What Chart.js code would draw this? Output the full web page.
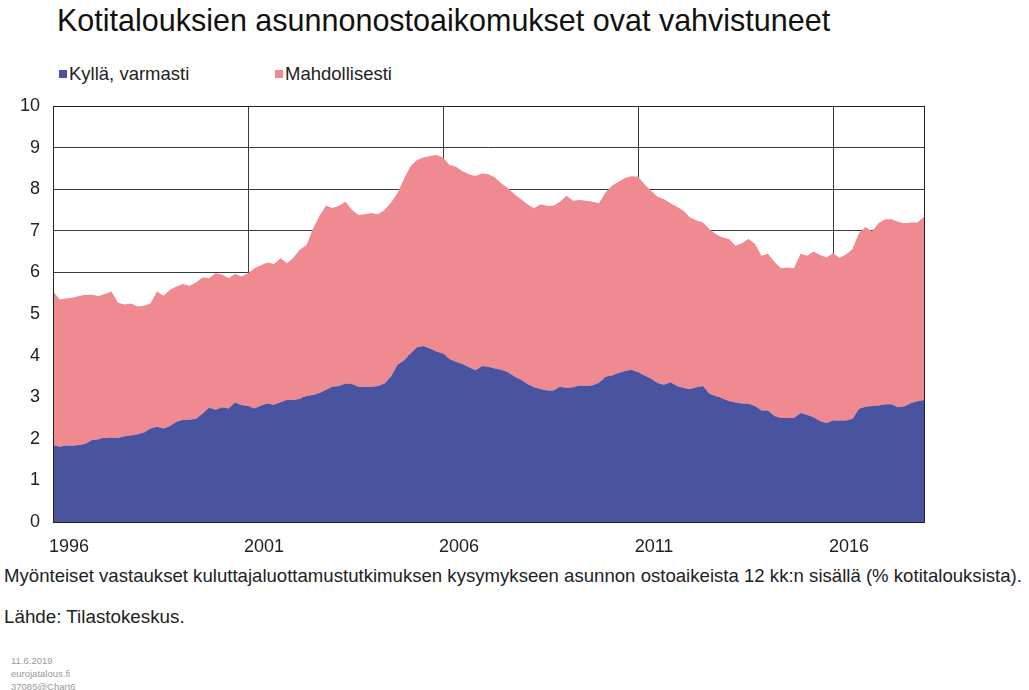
<!DOCTYPE html>
<html>
<head>
<meta charset="utf-8">
<script src="https://cdn.jsdelivr.net/npm/chart.js@4"></script>
<style>
  body { margin: 0; background: #fff; font-family: "Liberation Sans", Arial, sans-serif; color: #222; }
  #wrap { position: relative; width: 1029px; height: 690px; overflow: hidden; }
  #title { position: absolute; left: 57px; top: 3px; font-size: 30.5px; color: #111; white-space: nowrap; }
  .leg { position: absolute; top: 63px; font-size: 18.5px; white-space: nowrap; }
  .leg i { display: inline-block; width: 8px; height: 8px; margin-right: 2px; vertical-align: 2px; }
  #chartBox { position: absolute; left: 0; top: 90px; width: 1029px; height: 470px; }
  #note { position: absolute; left: 4px; top: 565px; font-size: 18.6px; white-space: nowrap; }
  #source { position: absolute; left: 4px; top: 606px; font-size: 18.8px; }
  #stamp { position: absolute; left: 11px; top: 654px; font-size: 9.5px; line-height: 13px; color: #999; }
</style>
</head>
<body>
<div id="wrap">
  <div id="title">Kotitalouksien asunnonostoaikomukset ovat vahvistuneet</div>
  <div class="leg" style="left:59px"><i style="background:#4a53a0"></i>Kyllä, varmasti</div>
  <div class="leg" style="left:275px"><i style="background:#ef8a90"></i>Mahdollisesti</div>
  <div id="chartBox"><canvas id="myChart"></canvas></div>
  <div id="note">Myönteiset vastaukset kuluttajaluottamustutkimuksen kysymykseen asunnon ostoaikeista 12 kk:n sisällä (% kotitalouksista).</div>
  <div id="source">Lähde: Tilastokeskus.</div>
  <div id="stamp">11.6.2019<br>eurojatalous.fi<br>37085@Chart6</div>
</div>
<script>
// every second month, Jan 1996 - May 2018
const startYear = 1996;
const yearTicks = ['1996', '2001', '2006', '2011', '2016'];

const kylla = [
  1.85, 1.81, 1.84, 1.83, 1.85, 1.88, 1.97, 1.99, 2.02, 2.03, 2.02, 2.06,
  2.08, 2.11, 2.15, 2.25, 2.29, 2.25, 2.31, 2.41, 2.46, 2.46, 2.48, 2.60,
  2.75, 2.70, 2.76, 2.73, 2.87, 2.81, 2.79, 2.73, 2.80, 2.85, 2.82, 2.88,
  2.94, 2.93, 2.96, 3.03, 3.05, 3.10, 3.18, 3.25, 3.27, 3.33, 3.32, 3.25,
  3.25, 3.25, 3.27, 3.33, 3.50, 3.78, 3.88, 4.05, 4.20, 4.23, 4.17, 4.10,
  4.05, 3.92, 3.85, 3.80, 3.72, 3.65, 3.75, 3.73, 3.69, 3.66, 3.60, 3.50,
  3.42, 3.32, 3.24, 3.20, 3.16, 3.16, 3.25, 3.22, 3.24, 3.28, 3.27, 3.29,
  3.35, 3.49, 3.52, 3.58, 3.63, 3.66, 3.60, 3.52, 3.45, 3.34, 3.30, 3.36,
  3.27, 3.22, 3.20, 3.24, 3.27, 3.08, 3.02, 2.97, 2.91, 2.87, 2.85, 2.84,
  2.79, 2.68, 2.68, 2.55, 2.50, 2.50, 2.50, 2.62, 2.58, 2.52, 2.43, 2.38,
  2.44, 2.44, 2.44, 2.48, 2.72, 2.77, 2.79, 2.80, 2.83, 2.83, 2.76, 2.78,
  2.86, 2.90, 2.93
];

const mahdollisesti = [
  3.70, 3.54, 3.53, 3.56, 3.58, 3.58, 3.49, 3.44, 3.46, 3.51, 3.25, 3.17,
  3.17, 3.07, 3.05, 3.00, 3.25, 3.19, 3.27, 3.25, 3.26, 3.22, 3.28, 3.28,
  3.11, 3.28, 3.19, 3.13, 3.09, 3.09, 3.19, 3.37, 3.37, 3.39, 3.38, 3.46,
  3.28, 3.43, 3.59, 3.63, 4.00, 4.26, 4.42, 4.30, 4.33, 4.37, 4.18, 4.13,
  4.15, 4.18, 4.13, 4.17, 4.18, 4.12, 4.37, 4.50, 4.50, 4.53, 4.63, 4.72,
  4.71, 4.66, 4.69, 4.63, 4.64, 4.67, 4.63, 4.63, 4.59, 4.48, 4.42, 4.38,
  4.34, 4.32, 4.30, 4.44, 4.44, 4.44, 4.45, 4.62, 4.48, 4.46, 4.45, 4.41,
  4.31, 4.43, 4.56, 4.60, 4.64, 4.65, 4.70, 4.60, 4.51, 4.48, 4.46, 4.30,
  4.31, 4.26, 4.12, 4.01, 3.93, 3.96, 3.90, 3.87, 3.89, 3.77, 3.85, 3.96,
  3.89, 3.72, 3.77, 3.70, 3.60, 3.62, 3.60, 3.83, 3.82, 3.98, 3.99, 3.98,
  4.02, 3.91, 3.99, 4.08, 4.23, 4.32, 4.20, 4.38, 4.45, 4.45, 4.46, 4.40,
  4.34, 4.30, 4.41
];

const labels = [];
for (let k = 0; k < kylla.length; k++) {
  const m = k * 2;
  const year = startYear + Math.floor(m / 12);
  const month = (m % 12) + 1;
  labels.push(year + '-' + String(month).padStart(2, '0'));
}

function isYearTick(label) {
  return label.endsWith('-01') && yearTicks.includes(label.slice(0, 4));
}

const frame = {
  id: 'frame',
  afterDatasetsDraw(chart) {
    const a = chart.chartArea;
    const ctx = chart.ctx;
    ctx.save();
    ctx.strokeStyle = '#222';
    ctx.lineWidth = 1;
    ctx.strokeRect(Math.round(a.left) + 0.5, Math.round(a.top) + 0.5, Math.round(a.right - a.left), Math.round(a.bottom - a.top));
    ctx.restore();
  }
};

Chart.defaults.font.family = '"Liberation Sans", Arial, sans-serif';
Chart.defaults.color = '#222';

const data = {
  labels: labels,
  datasets: [
    {
      label: 'Kyllä, varmasti',
      data: kylla,
      backgroundColor: '#4a53a0',
      borderWidth: 0,
      pointRadius: 0,
      fill: 'origin',
    },
    {
      label: 'Mahdollisesti',
      data: mahdollisesti,
      backgroundColor: '#ef8a90',
      borderWidth: 0,
      pointRadius: 0,
      fill: '-1',
    },
  ],
};

// CONFIG
const config = {
  type: 'line',
  data,
  plugins: [frame],
  options: {
    responsive: true,
    maintainAspectRatio: false,
    animation: false,
    layout: { padding: { top: 16, right: 105, left: 0, bottom: 0 } },
    plugins: {
      legend: { display: false },
      tooltip: { enabled: false },
    },
    scales: {
      x: {
        stacked: true,
        afterFit: (scale) => { scale.height = 38; },
        border: { display: false },
        grid: {
          drawTicks: false,
          color: (ctx) => (ctx.tick && isYearTick(labels[ctx.index]) ? '#3a3a3a' : 'rgba(0,0,0,0)'),
        },
        ticks: {
          autoSkip: false,
          maxRotation: 0,
          padding: 14,
          labelOffset: 16,
          font: { size: 18 },
          callback: (value, index) => (isYearTick(labels[index]) ? labels[index].slice(0, 4) : ''),
        },
      },
      y: {
        stacked: true,
        min: 0,
        max: 10,
        afterFit: (scale) => {
          scale.width = 53;
          scale.paddingTop = 0;
          scale.paddingBottom = 0;
        },
        border: { display: false },
        grid: { drawTicks: false, color: '#3a3a3a' },
        ticks: { stepSize: 1, padding: 13, font: { size: 18 } },
      },
    },
  },
};

// RENDER
const myChart = new Chart(document.getElementById('myChart'), config);
</script>
</body>
</html>
